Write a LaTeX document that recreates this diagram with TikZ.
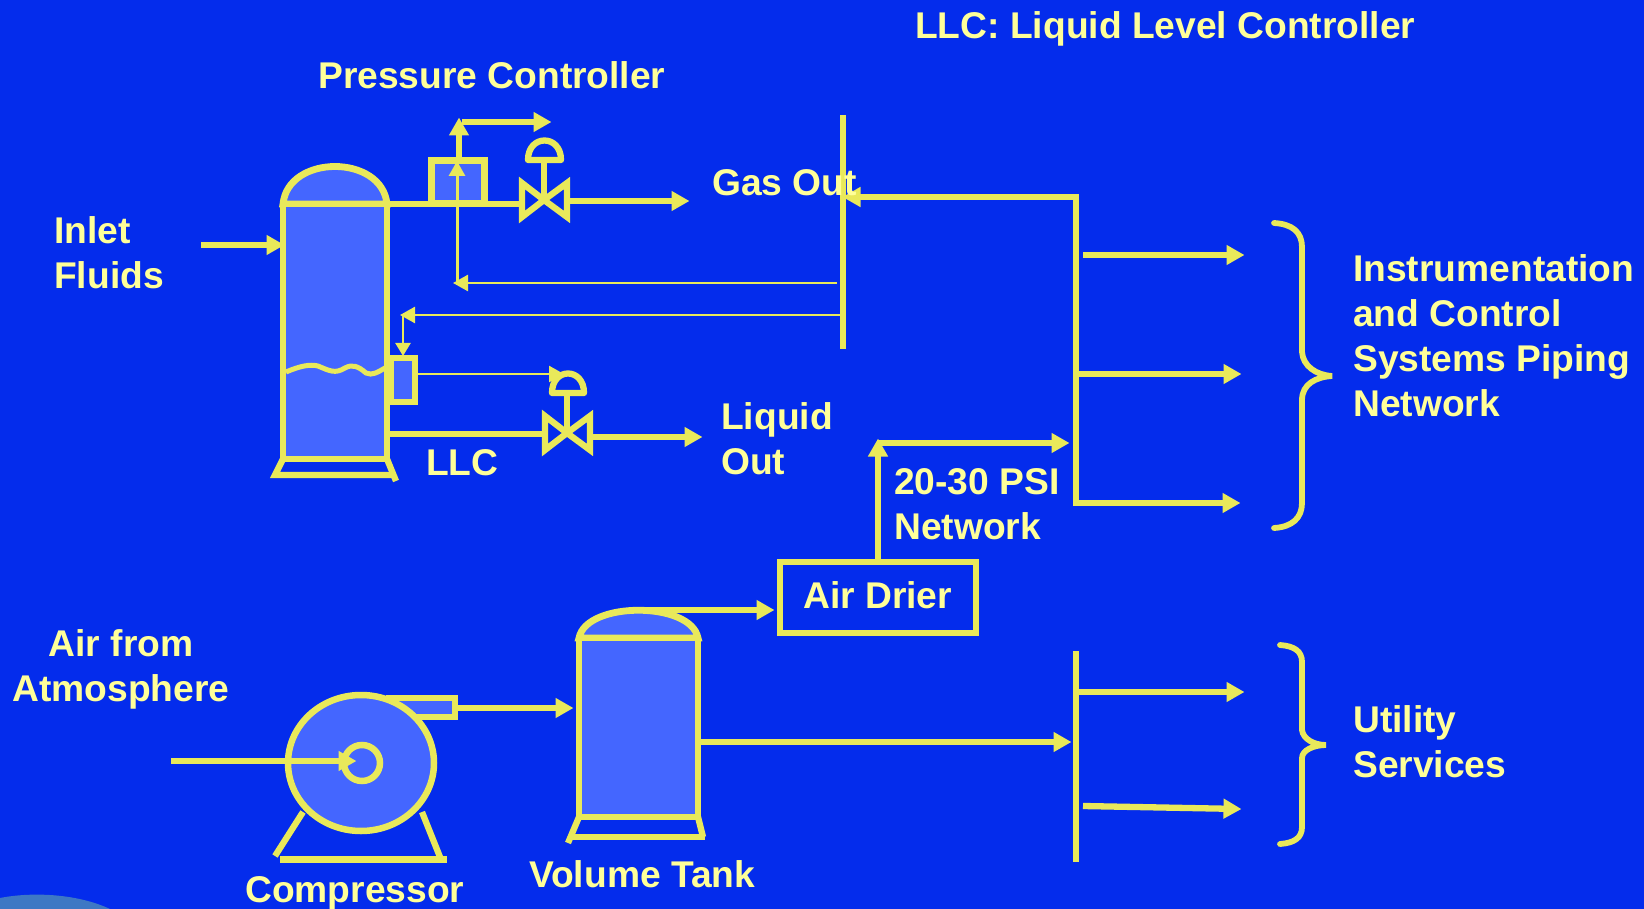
\documentclass[tikz,border=0pt]{standalone}
\usepackage{fontspec}
\setmainfont{Liberation Sans}
\usetikzlibrary{arrows.meta,shapes.geometric}
\definecolor{bg}{HTML}{042CEC}
\definecolor{pipe}{HTML}{E9E95A}
\definecolor{inner}{HTML}{4466FF}
\definecolor{txt}{HTML}{FFFF99}
\definecolor{blob}{HTML}{3E78C4}
\tikzset{
 x=1pt,y=-1pt,
 pipeline/.style={draw=pipe,line width=6.3pt},
 thinline/.style={draw=pipe,line width=2.5pt},
 vessel/.style={draw=pipe,fill=inner,line width=6.8pt},
 bigarrow/.style={pipeline,-{Triangle[length=18pt,width=19pt,fill=pipe]},shorten >=-1.5pt},
 thinarrow/.style={thinline,-{Triangle[length=15pt,width=16pt,fill=pipe]},shorten >=-1pt},
 lbl/.style={font=\fontsize{37.2}{45}\selectfont\bfseries,text=txt,inner sep=0pt,align=left,anchor=north west},
 lblc/.style={lbl,align=center,anchor=north},
 pt/.style={inner sep=0pt,minimum size=0pt,outer sep=0pt},
}
\begin{document}
\begin{tikzpicture}
\useasboundingbox (0,0) rectangle (1644,909);
\fill[bg] (0,0) rectangle (1644,909);
\fill[blob] (0,909) -- (0,898) .. controls (30,892) and (76,893) .. (110,909) -- cycle;

% separator tank
\draw[vessel] (283,204) .. controls (288,154) and (382,154) .. (387,204) -- cycle;
\draw[vessel] (283,204) rectangle (387,459);
\coordinate (t1in) at (283,245);
\coordinate (t1gas) at (387,204);
\coordinate (t1liq) at (387,434);
\draw[pipeline,line join=miter] (283,459) -- (275,475) -- (393,475);
\draw[pipeline] (387,459) -- (396,481);
\draw[draw=pipe,line width=5pt] (286,372) .. controls (300,366) and (310,364) .. (318,366) .. controls (330,371) and (335,374) .. (345,368) .. controls (352,364) and (358,366) .. (366,373) .. controls (372,376) and (378,372) .. (385,368);

% pressure controller
\node[pt,draw=pipe,fill=inner,line width=6.5pt,minimum width=53pt,minimum height=43pt] (pc) at (458,182) {};
\draw[thinline,line width=3pt,-{Triangle[length=15pt,width=16pt,fill=pipe]}] (457,283) -- (457,161);
\coordinate (pcupA) at (459,158);
\coordinate (pcupB) at (459,119);
\draw[bigarrow] (pcupA) -- (pcupB);
\coordinate (pcrA) at (462,122);
\coordinate (pcrB) at (550,122);
\draw[bigarrow] (pcrA) -- (pcrB);

% valve gas
\coordinate (v1) at (544,200);
\draw[pipeline,line join=miter] (v1) -- (522,183) -- (522,217) -- cycle;
\draw[pipeline,line join=miter] (v1) -- (567,183) -- (567,217) -- cycle;
\draw[pipeline] (v1) -- (544,160);
\draw[pipeline,line join=round] (528,160) -- (561,160) .. controls (561,134) and (528,134) .. (528,160) -- cycle;
\draw[pipeline] (t1gas) -- (525,204);
\coordinate (gasend) at (688,201);
\draw[bigarrow] (570,201) -- (gasend);

% level controller
\node[pt,draw=pipe,fill=inner,line width=6.5pt,minimum width=24pt,minimum height=44pt] (lc) at (403,380) {};
\coordinate (lcv) at (563,374);
\coordinate (lcn) at (403,356);
\draw[thinarrow] (lc.east|-lcv) ++(2,0) -- (lcv);

% valve liquid
\coordinate (v2) at (567,433);
\draw[pipeline,line join=miter] (v2) -- (545,416) -- (545,450) -- cycle;
\draw[pipeline,line join=miter] (v2) -- (590,416) -- (590,450) -- cycle;
\draw[pipeline] (v2) -- (567,393);
\draw[pipeline,line join=round] (552,393) -- (584,393) .. controls (584,367) and (552,367) .. (552,393) -- cycle;
\draw[pipeline] (t1liq) -- (543,434);
\coordinate (liqend) at (701,437);
\draw[bigarrow] (593,437) -- (liqend);

% inlet
\coordinate (inl) at (201,245);
\draw[bigarrow] (inl) -- (t1in);

% instrument bus
\coordinate (b1t) at (843,115); \coordinate (b1b) at (843,349);
\draw[pipeline] (b1t) -- (b1b);
\coordinate (b2t) at (1076,194); \coordinate (b2b) at (1076,506);
\draw[pipeline] (b2t) -- (b2b);
\coordinate (b3t) at (1076,651); \coordinate (b3b) at (1076,862);
\draw[pipeline] (b3t) -- (b3b);
\coordinate (gtip) at (844,197);
\draw[bigarrow] (1079,197) -- (gtip);
\draw[thinarrow] (837,283) -- (454,283);
\draw[thinarrow] (843,315) -- (401,315);
\draw[thinline,-{Triangle[length=13pt,width=15pt,fill=pipe]}] (403,316) -- (lcn);

% outputs
\foreach \a/\b/\c/\d in {1083/255/1243/255,1079/374/1240/374,1079/503/1239/503,1079/692/1243/692,1083/806/1240/809}
 \draw[bigarrow] (\a,\b) -- (\c,\d);

% braces
\draw[draw=pipe,line width=5.8pt,line cap=round] (1274,223) .. controls (1292,224) and (1302,232) .. (1302,247) -- (1302,352) .. controls (1303,366) and (1316,375) .. (1332,376) .. controls (1316,377) and (1302,384) .. (1302,400) -- (1302,503) .. controls (1302,518) and (1292,527) .. (1274,528);
\draw[draw=pipe,line width=5.8pt,line cap=round] (1280,645) .. controls (1294,646) and (1302,651) .. (1302,662) -- (1302,730) .. controls (1303,739) and (1314,745) .. (1326,745) .. controls (1314,745) and (1302,750) .. (1302,758) -- (1302,827) .. controls (1302,838) and (1294,843) .. (1280,844);

% compressor
\node[pt,draw=pipe,fill=inner,line width=6pt,minimum width=66pt,minimum height=19pt] (cout) at (422,707) {};
\node[pt,draw=pipe,fill=inner,line width=6.5pt,ellipse,minimum width=146pt,minimum height=136pt] (comp) at (361,763) {};
\node[pt,draw=pipe,line width=6.5pt,circle,minimum size=36pt] (eye) at (362,763) {};
\coordinate (cin) at (171,761);
\draw[bigarrow] (cin) -- (355,761);
\draw[pipeline] (303,812) -- (275,856);
\draw[pipeline] (422,812) -- (440,857);
\draw[pipeline,line width=7pt] (280,859) -- (447,859);

% volume tank
\draw[vessel] (579,638) .. controls (586,601) and (691,601) .. (698,638) -- cycle;
\draw[vessel] (579,638) rectangle (698,817);
\draw[pipeline] (579,817) -- (568,843);
\draw[pipeline] (698,817) -- (703,837);
\draw[pipeline] (570,837) -- (705,837);
\coordinate (vti) at (572,708);
\coordinate (vtr) at (700,742);
\coordinate (vtt) at (640,610);
\draw[bigarrow] (cout.east|-vti) -- (vti);
\draw[bigarrow] (vtr) -- (1070,742);

% drier
\node[pt,draw=pipe,line width=6pt,minimum width=196pt,minimum height=71pt] (dry) at (878,597.5) {};
\draw[bigarrow] (vtt) -- (773,610);
\coordinate (dup) at (878,440);
\draw[bigarrow] (dry.north) -- (dup);
\draw[bigarrow] (878,443) -- (1068,443);

% labels
\node[lbl] at (915,11) {LLC: Liquid Level Controller};
\node[lbl] at (318,61) {Pressure Controller};
\node[lbl] at (712,169) {Gas Out};
\node[lbl] at (54,216) {Inlet\\Fluids};
\node[lbl] at (721,402) {Liquid\\Out};
\node[lbl] at (426,449) {LLC};
\node[lbl] at (894,468) {20-30 PSI\\Network};
\node[lbl] at (803,581) {Air Drier};
\node[lbl] at (1353,254) {Instrumentation\\and Control\\Systems Piping\\Network};
\node[lbl] at (1353,705) {Utility\\Services};
\node[lblc] at (121,629) {Air from\\Atmosphere};
\node[lbl] at (245,876) {Compressor};
\node[lbl] at (529,860) {Volume Tank};
\end{tikzpicture}
\end{document}
